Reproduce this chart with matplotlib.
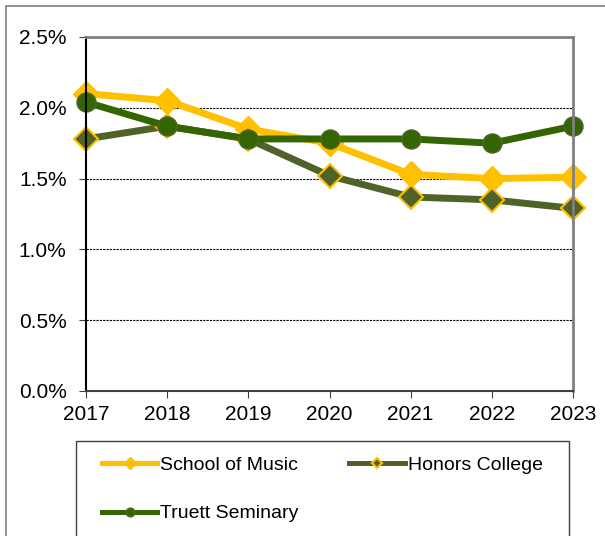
import matplotlib.pyplot as plt
import matplotlib.patches as patches
from matplotlib.ticker import FuncFormatter

plt.rcParams['font.family'] = ['Liberation Sans', 'DejaVu Sans']

years = [2017, 2018, 2019, 2020, 2021, 2022, 2023]
music = [2.10, 2.05, 1.85, 1.75, 1.53, 1.50, 1.51]
honors = [1.78, 1.87, 1.78, 1.52, 1.37, 1.35, 1.29]
truett = [2.04, 1.87, 1.78, 1.78, 1.78, 1.75, 1.87]

fig = plt.figure(figsize=(6.05, 5.36), dpi=100)

# outer chart border
fig.patches.append(patches.Rectangle((6 / 605, -0.01), 1.0, 1 - 6 / 536 + 0.01,
                                     transform=fig.transFigure, fill=False,
                                     edgecolor='#7f7f7f', lw=1.2))
# legend border
fig.patches.append(patches.Rectangle((76 / 605, -0.01), (569 - 76) / 605, 1 - 441 / 536 + 0.01,
                                     transform=fig.transFigure, fill=False,
                                     edgecolor='#404040', lw=1.0))

ax = fig.add_axes([86 / 605, 1 - 391 / 536, (573 - 86) / 605, (391 - 37) / 536])

l1, = ax.plot(years, music, color='#FFC000', lw=5, marker='D', ms=13,
              mfc='#FFC000', mec='#FFC000', label='School of Music', zorder=3,
              clip_on=False)
l2, = ax.plot(years, honors, color='#4F6228', lw=5, marker='D', ms=12,
              mfc='#4F6228', mec='#FFC000', mew=1.5, label='Honors College', zorder=3,
              clip_on=False)
l3, = ax.plot(years, truett, color='#336600', lw=5, marker='o', ms=13.5,
              mfc='#336600', mec='#4F6228', mew=1.2, label='Truett Seminary', zorder=4,
              clip_on=False)

ax.set_xlim(2017, 2023)
ax.set_ylim(0, 2.5)
ax.set_yticks([0, 0.5, 1.0, 1.5, 2.0, 2.5])
ax.yaxis.set_major_formatter(FuncFormatter(lambda v, p: f'{v:.1f}%'))
ax.set_xticks(years)
for y in [0.5, 1.0, 1.5, 2.0]:
    ax.axhline(y, color='black', lw=0.8, ls=(0, (2, 1)), zorder=1)

ax.spines['left'].set_color('black')
ax.spines['left'].set_linewidth(1.5)
ax.spines['bottom'].set_color('#404040')
ax.spines['bottom'].set_linewidth(1.5)
ax.spines['top'].set_color('#808080')
ax.spines['top'].set_linewidth(2)
ax.spines['right'].set_color('#808080')
ax.spines['right'].set_linewidth(2)
ax.tick_params(axis='both', labelsize=15, length=5, direction='out', color='#404040')
ax.tick_params(axis='y', pad=9)
ax.tick_params(axis='x', pad=5)
for s in ax.spines.values():
    s.set_zorder(5)

leg = fig.legend([l1, l3, l2], ['School of Music', 'Truett Seminary', 'Honors College'],
                 loc='upper left', bbox_to_anchor=(102 / 605, 1 - 456 / 536),
                 ncol=2, fontsize=14, frameon=False,
                 handlelength=2.85, handletextpad=0.15,
                 columnspacing=2.6, borderpad=0, labelspacing=1.6,
                 markerscale=0.45, borderaxespad=0)
for h in leg.get_lines():
    h.set_linewidth(3.6)

fig.savefig('out.png', dpi=100)
